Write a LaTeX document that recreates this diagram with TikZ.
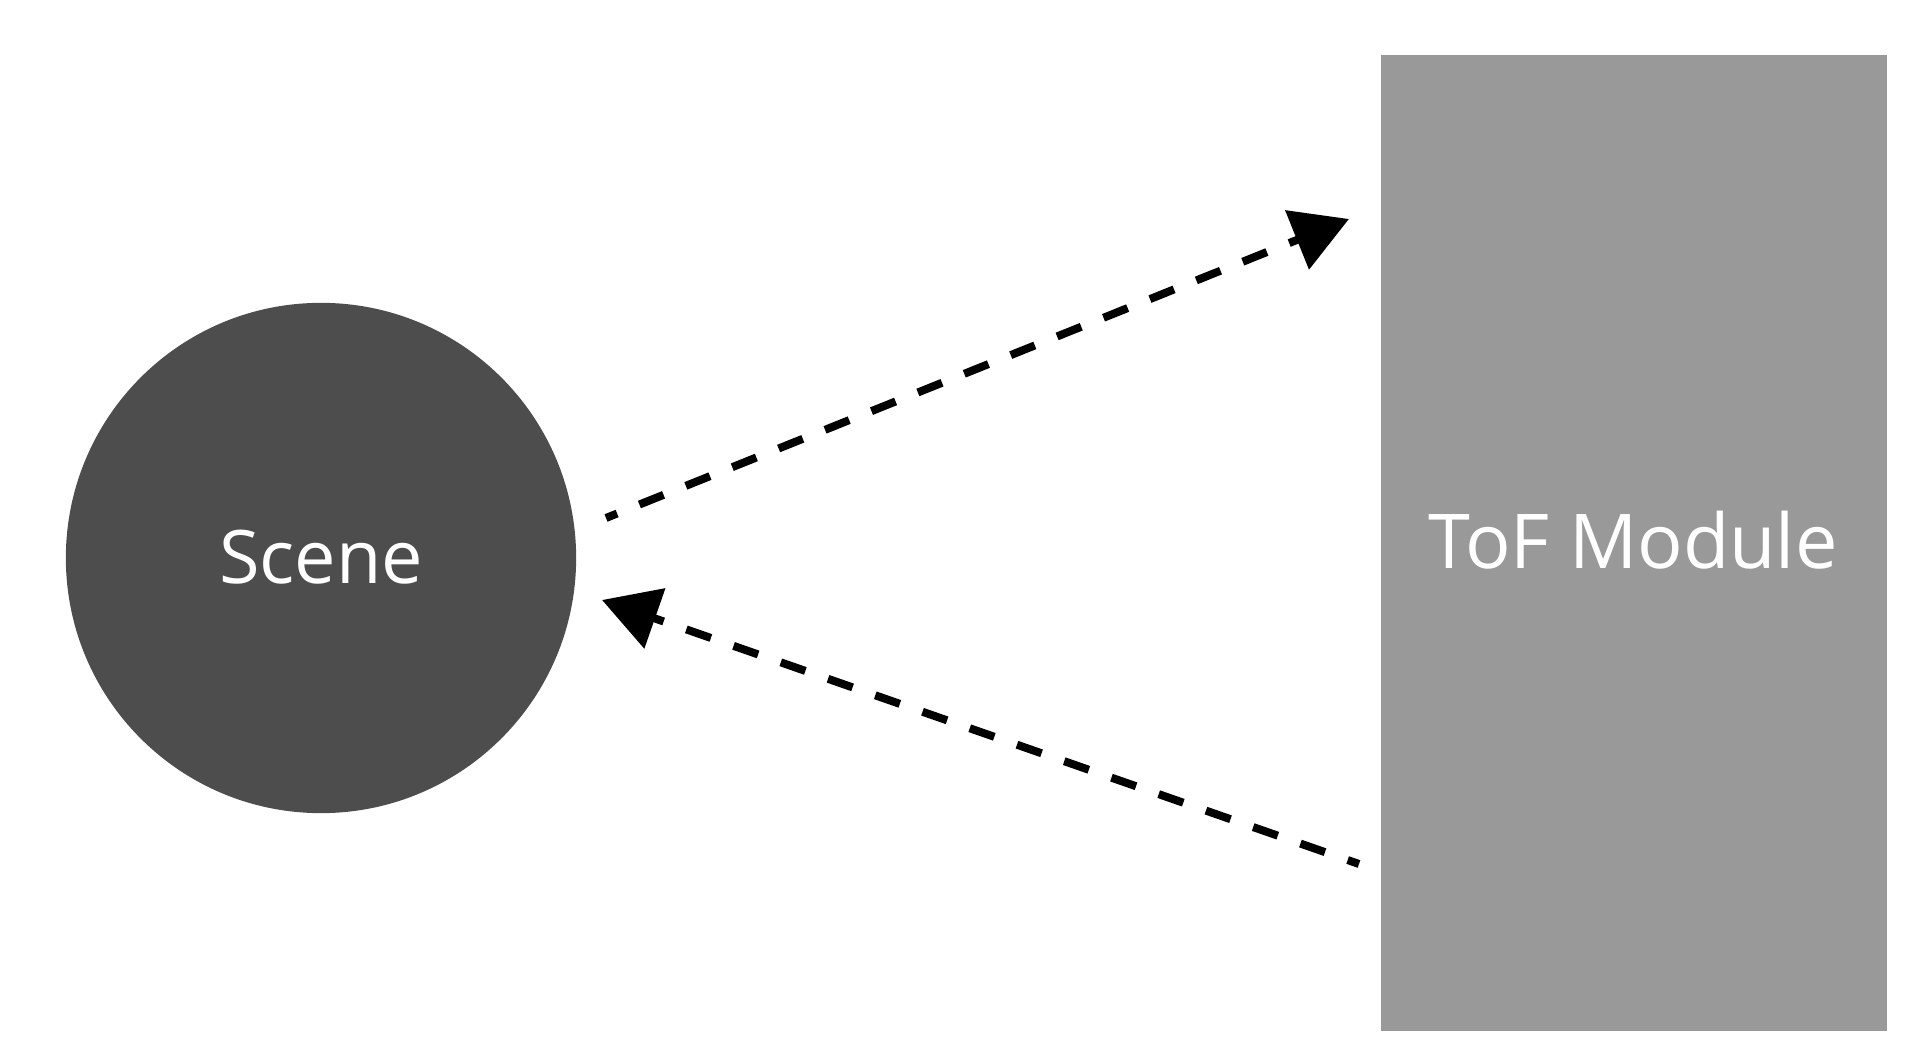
\documentclass[tikz,border=0pt]{standalone}
\usepackage{fontspec}
\setmainfont{Open Sans}
\usetikzlibrary{arrows.meta}

\definecolor{scenegray}{HTML}{4D4D4D}
\definecolor{modulegray}{HTML}{999999}

\begin{document}
\begin{tikzpicture}[x=0.01cm, y=-0.01cm,
  ray/.style={line width=0.08cm, dash pattern=on 0.26cm off 0.24cm, dash phase=0.14cm, -{Triangle[length=0.56cm, width=0.62cm]}}]

  \useasboundingbox (0, 0) rectangle (1920, 1049);

  \node[circle, fill=scenegray, inner sep=0pt, minimum size=5.1cm, text=white, font=\fontsize{21}{25}\selectfont, text depth=0.02cm] (scene) at (321, 558) {Scene};
  \node[rectangle, fill=modulegray, inner sep=0pt, minimum width=5.06cm, minimum height=9.76cm] (tof) at (1634, 543) {};
  \node[text=white, inner sep=0pt, font=\fontsize{21.5}{25}\selectfont] (toflabel) at (1633, 540) {ToF Module};

  \coordinate (sceneout) at (606, 518);
  \coordinate (tofin) at (1349, 219);
  \coordinate (tofout) at (1359, 864);
  \coordinate (scenein) at (602, 600);

  \draw[ray] (sceneout) -- (tofin);
  \draw[ray] (tofout) -- (scenein);

\end{tikzpicture}
\end{document}
